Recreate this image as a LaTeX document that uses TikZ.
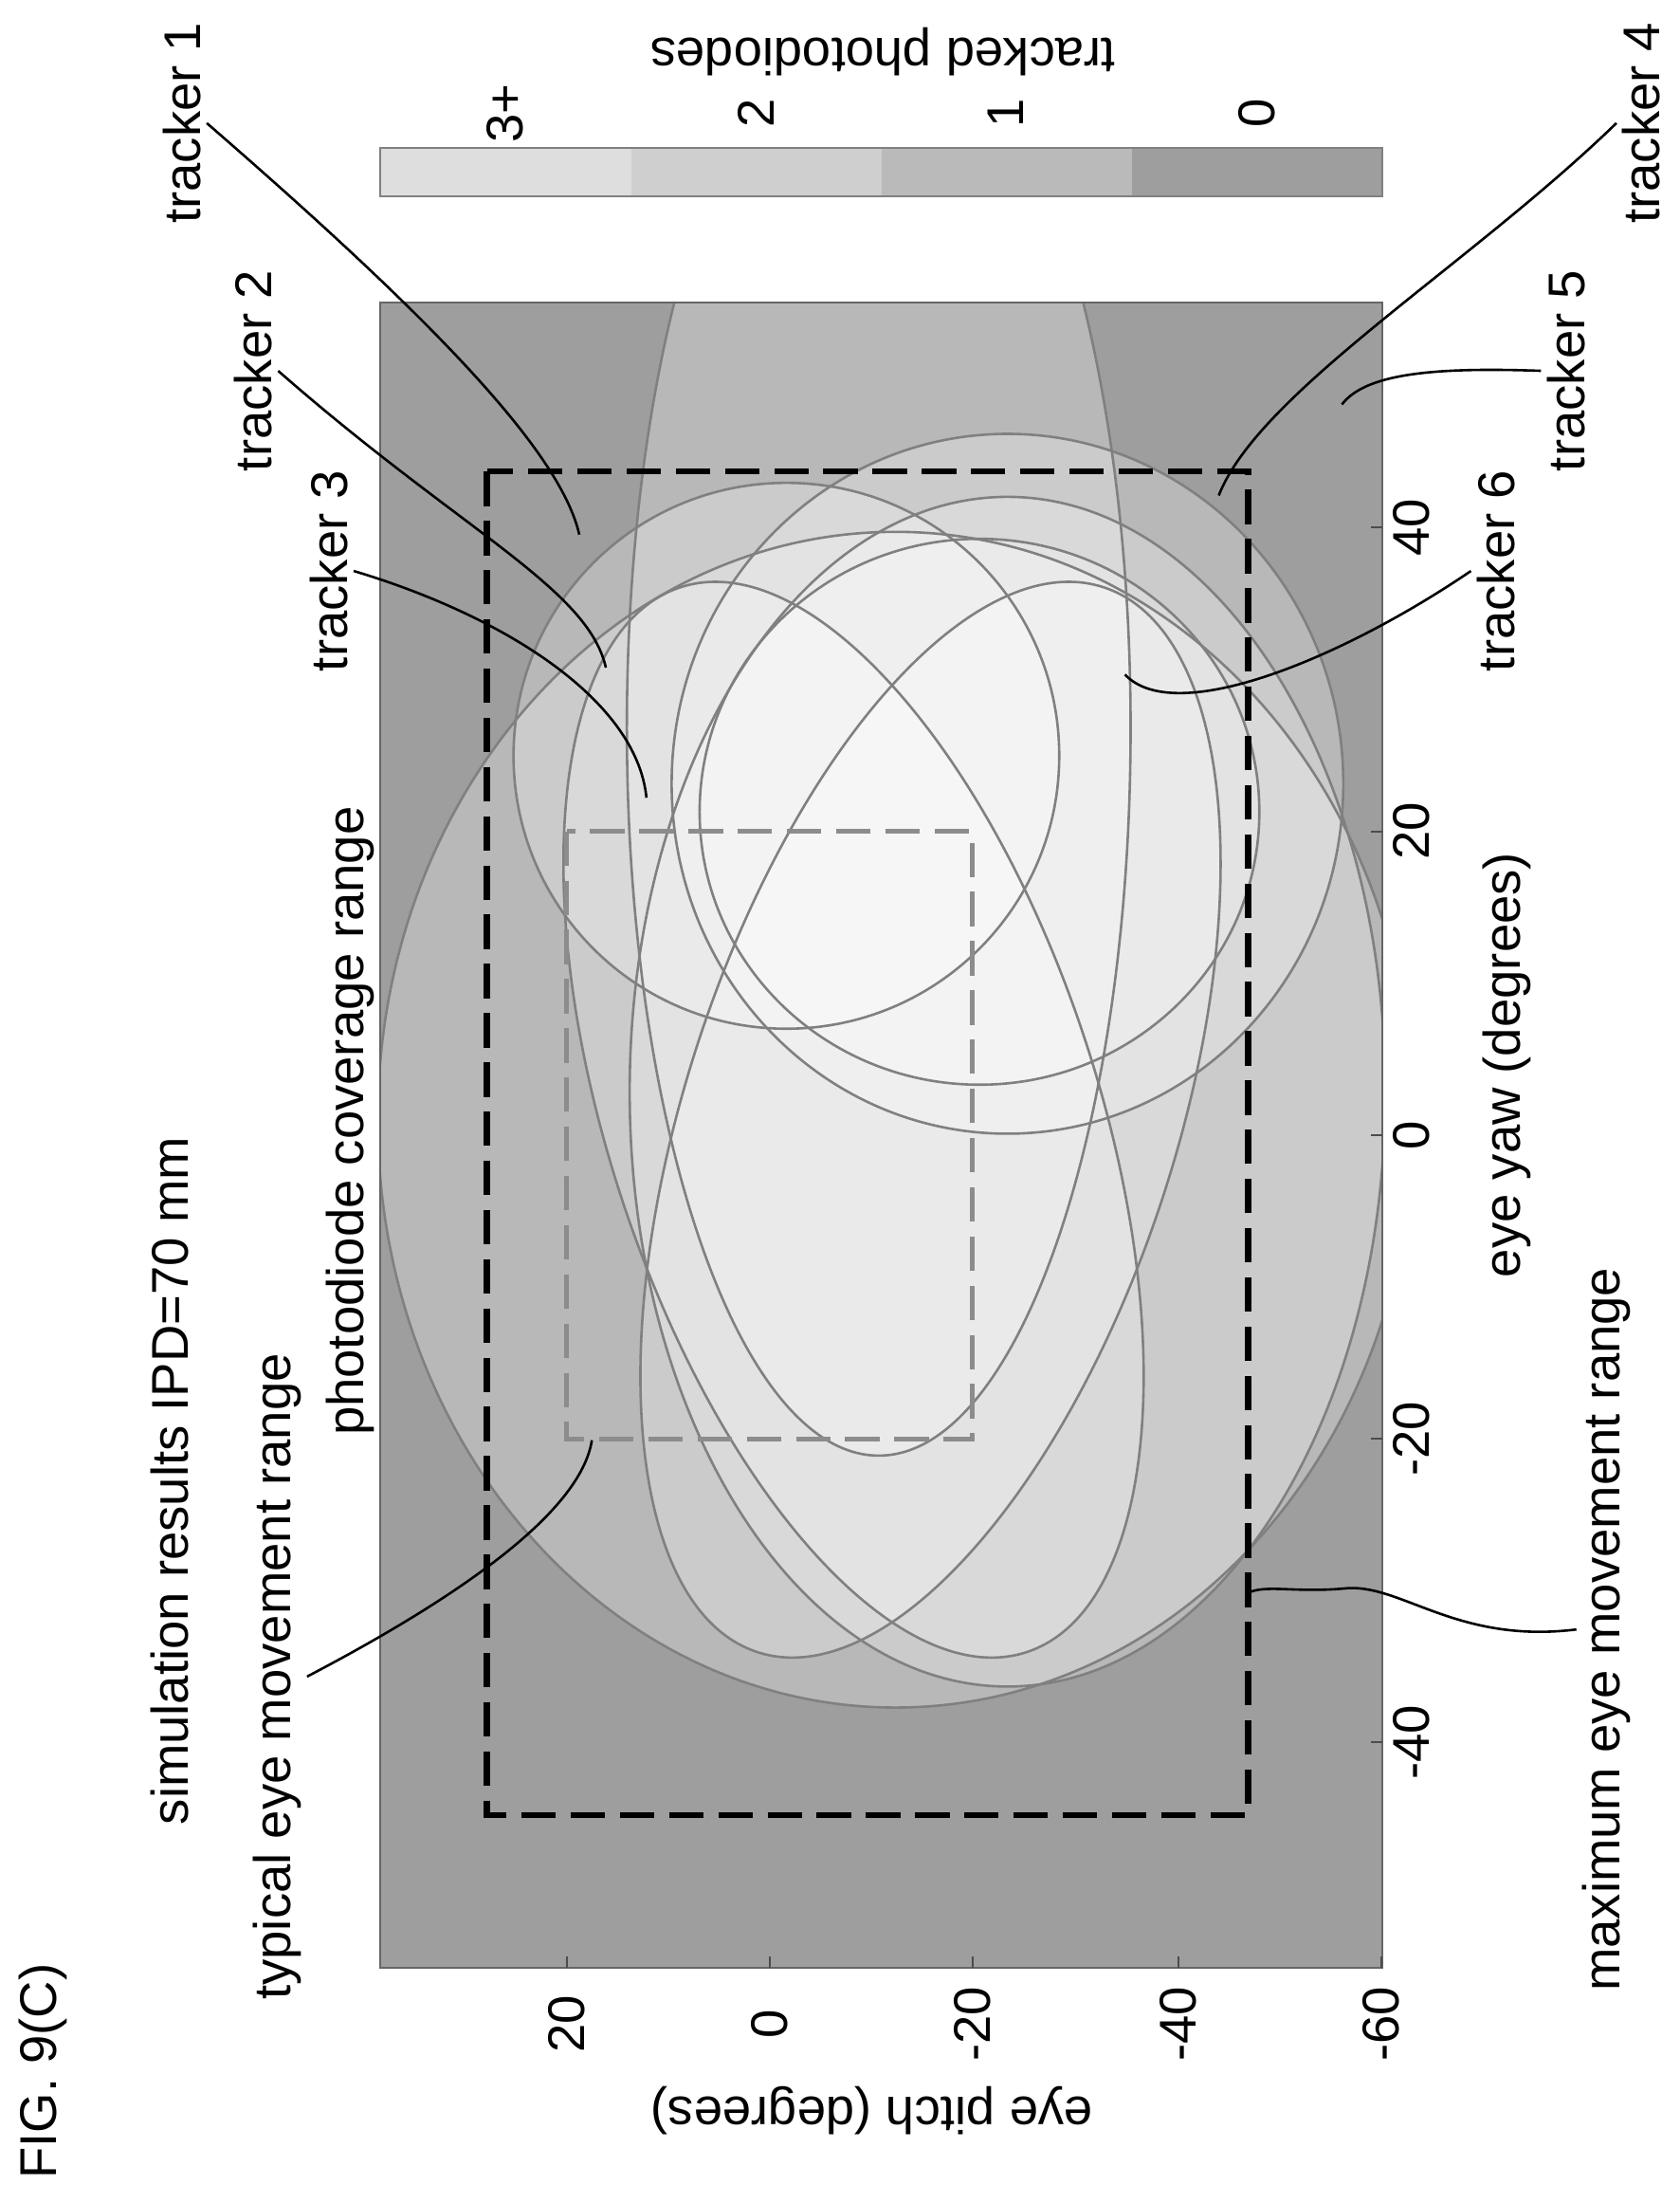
\documentclass[tikz,border=0pt]{standalone}
\usepackage{fontspec}
\setmainfont{Liberation Sans}
\begin{document}
\begin{tikzpicture}[x=0.01cm,y=-0.01cm,
  lbl/.style={font=\fontsize{10.5}{12}\selectfont,inner sep=1pt,rotate=90},
  lblw/.style={lbl,anchor=west},
  lead/.style={black,line width=0.5pt},
  trk/.style={draw=black!50,line width=0.5pt},
  cov/.style={fill=white,fill opacity=0.27}]
\useasboundingbox (0,0) rectangle (1200,1574);
\fill[black!38] (272,216) rectangle (988,1406);
\begin{scope}
\clip (272,216) rectangle (988,1406);
\fill[cov] (562,540) ellipse [x radius=195,y radius=195];
\fill[cov] (700,580) ellipse [x radius=200,y radius=195];
\fill[cov] (720,560) ellipse [x radius=240,y radius=250];
\fill[cov] (610,800) ellipse [x radius=175,y radius=400,rotate=18];
\fill[cov] (665,800) ellipse [x radius=175,y radius=400,rotate=-18];
\fill[cov] (640,800) ellipse [x radius=370,y radius=420];
\fill[cov] (720,780) ellipse [x radius=270,y radius=425];
\fill[cov] (628,520) ellipse [x radius=180,y radius=520];
\draw[trk] (562,540) ellipse [x radius=195,y radius=195];
\draw[trk] (700,580) ellipse [x radius=200,y radius=195];
\draw[trk] (720,560) ellipse [x radius=240,y radius=250];
\draw[trk] (610,800) ellipse [x radius=175,y radius=400,rotate=18];
\draw[trk] (665,800) ellipse [x radius=175,y radius=400,rotate=-18];
\draw[trk] (640,800) ellipse [x radius=370,y radius=420];
\draw[trk] (720,780) ellipse [x radius=270,y radius=425];
\draw[trk] (628,520) ellipse [x radius=180,y radius=520];
\end{scope}
\draw[black!60,line width=0.4pt] (272,216) rectangle (988,1406);
% ranges
\draw[black!45,line width=0.9pt,dash pattern=on 7pt off 3pt] (405,594) rectangle (695,1028);
\draw[black,line width=1.2pt,dash pattern=on 7pt off 3pt] (348,337) rectangle (892,1297);
% ticks
\foreach \y/\t in {1245/-40,1028/-20,811/0,594/20,377/40}{
  \draw[black!70,line width=0.4pt] (988,\y) -- (980,\y);
  \node[lbl] at (1009,\y) {\t};}
\foreach \x/\t in {405/20,550/0,695/-20,842/-40,987/-60}{
  \draw[black!70,line width=0.4pt] (\x,1406) -- (\x,1398);
  \node[lbl] at (\x,1446) {\t};}
\node[lblw] (yawlab) at (1077,917) {eye yaw (degrees)};
\node[lbl,rotate=90] (pitchlab) at (623,1508) {eye pitch (degrees)};
% colorbar
\fill[black!13] (272,106) rectangle (451,140);
\fill[black!19] (451,106) rectangle (630,140);
\fill[black!27] (630,106) rectangle (809,140);
\fill[black!38] (809,106) rectangle (988,140);
\draw[black!50,line width=0.4pt] (272,106) rectangle (988,140);
\foreach \x/\t in {361/3+,540/2,719/1,898/0}{\node[lbl] at (\x,81) {\t};}
\node[lbl,rotate=90] (cblab) at (631,37) {tracked photodiodes};
% texts
\node[lblw] (fig) at (31,1561) {FIG. 9(C)};
\node[lblw] (sim) at (121,1308) {simulation results IPD=70 mm};
\node[lblw] (typ) at (198,1433) {typical eye movement range};
\node[lblw] (pcr) at (250,1030) {photodiode coverage range};
\node[lblw] (max) at (1148,1427) {maximum eye movement range};
\node[lblw] (t1) at (130,164) {tracker 1};
\node[lblw] (t2) at (181,341) {tracker 2};
\node[lblw] (t3) at (235,484) {tracker 3};
\node[lblw] (t4) at (1173,164) {tracker 4};
\node[lblw] (t5) at (1119,341) {tracker 5};
\node[lblw] (t6) at (1069,484) {tracker 6};
% leader ends
\coordinate (e1) at (414,382);
\coordinate (e2) at (433,477);
\coordinate (e3) at (462,570);
\coordinate (e4) at (871,354);
\coordinate (e5) at (959,289);
\coordinate (e6) at (804,482);
\coordinate (et) at (423,1029);
\coordinate (em) at (892,1138);
\draw[lead] (t1.south) .. controls (300,220) and (400,320) .. (e1);
\draw[lead] (t2.south) .. controls (330,380) and (420,420) .. (e2);
\draw[lead] (t3.south) .. controls (360,440) and (455,500) .. (e3);
\draw[lead] (t4.north) .. controls (1050,190) and (900,280) .. (e4);
\draw[lead] (t5.north) .. controls (1020,262) and (975,268) .. (e5);
\draw[lead] (t6.north) .. controls (960,470) and (840,520) .. (e6);
\draw[lead] (typ.south) .. controls (330,1140) and (415,1080) .. (et);
\draw[lead] (max.north) .. controls (1040,1175) and (1000,1130) .. (960,1135) .. controls (925,1138) and (905,1132) .. (em);
\end{tikzpicture}
\end{document}
